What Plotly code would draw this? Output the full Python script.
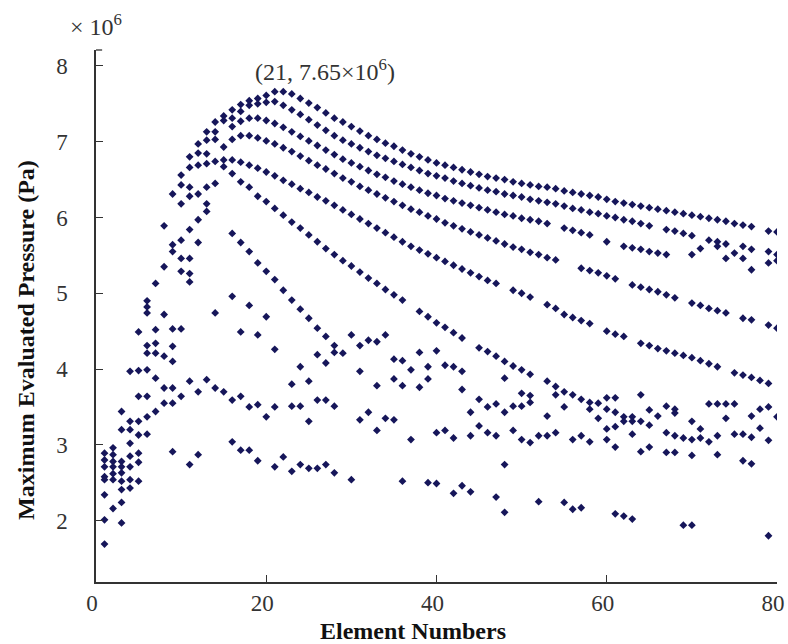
import plotly.graph_objects as go

# ---- data (pressure in units of 10^6 Pa) ----
curve_a_x = [8, 9, 10, 11, 12, 13, 14, 15, 16, 17, 18, 19, 20, 21, 22, 23, 24, 25, 26, 27, 28, 29, 30,
             31, 32, 33, 34, 35, 36, 37, 38, 39, 40, 41, 42, 43, 44, 45, 46, 47, 48, 49, 50, 51, 52, 53,
             54, 55, 56, 57, 58, 59, 60, 61, 62, 63, 64, 65, 66, 67, 68, 69, 70, 71, 72, 73, 74, 75, 76,
             77, 79, 80]
curve_a_y = [5.89, 6.31, 6.56, 6.80, 6.97, 7.13, 7.26, 7.34, 7.42, 7.49, 7.54, 7.57, 7.61, 7.66, 7.66,
             7.63, 7.57, 7.51, 7.45, 7.38, 7.31, 7.26, 7.20, 7.14, 7.08, 7.03, 6.98, 6.94, 6.89, 6.84,
             6.80, 6.76, 6.72, 6.69, 6.66, 6.63, 6.60, 6.57, 6.54, 6.52, 6.50, 6.47, 6.45, 6.43, 6.41,
             6.40, 6.38, 6.35, 6.33, 6.31, 6.29, 6.27, 6.24, 6.21, 6.19, 6.17, 6.15, 6.13, 6.11, 6.09,
             6.07, 6.05, 6.03, 6.01, 5.99, 5.97, 5.95, 5.92, 5.90, 5.88, 5.82, 5.81]

curve_b_x = [10, 11, 12, 13, 14, 15, 16, 17, 18, 19, 20, 21, 22, 23, 24, 25, 26, 27, 28, 29, 30, 31,
             32, 33, 34, 35, 36, 37, 38, 39, 40, 41, 42, 43, 44, 45, 46, 47, 48, 49, 50, 51, 52, 53,
             54, 55, 56, 57, 58, 59, 60, 61, 62, 63, 64, 65, 67, 68, 69, 70, 72, 73, 74, 76, 77, 79, 80]
curve_b_y = [6.43, 6.66, 6.85, 7.02, 7.13, 7.28, 7.31, 7.40, 7.48, 7.50, 7.52, 7.53, 7.48, 7.42, 7.36,
             7.29, 7.22, 7.15, 7.08, 7.02, 6.97, 6.92, 6.87, 6.82, 6.78, 6.74, 6.70, 6.66, 6.62, 6.58,
             6.55, 6.52, 6.48, 6.45, 6.42, 6.39, 6.36, 6.34, 6.31, 6.29, 6.27, 6.24, 6.22, 6.20, 6.18,
             6.15, 6.12, 6.10, 6.07, 6.05, 6.02, 6.00, 5.97, 5.95, 5.92, 5.89, 5.84, 5.82, 5.79, 5.76,
             5.70, 5.68, 5.65, 5.62, 5.58, 5.55, 5.51]

curve_c_x = [16, 17, 18, 19, 20, 21, 22, 23, 24, 25, 26, 27, 28, 29, 30, 31, 32, 33, 34, 35, 36, 37,
             38, 39, 40, 41, 42, 43, 44, 45, 46, 47, 48, 49, 50, 51, 52, 53, 55, 56, 57, 58, 60, 62,
             63, 64, 65, 66, 67, 70, 71, 73, 74, 75, 76, 77, 79, 80]
curve_c_y = [7.20, 7.27, 7.31, 7.31, 7.28, 7.24, 7.19, 7.13, 7.07, 7.01, 6.95, 6.89, 6.83, 6.77, 6.72,
             6.67, 6.62, 6.57, 6.53, 6.48, 6.44, 6.40, 6.36, 6.32, 6.29, 6.25, 6.22, 6.19, 6.16, 6.13,
             6.10, 6.07, 6.04, 6.02, 5.99, 5.97, 5.95, 5.92, 5.86, 5.83, 5.80, 5.77, 5.68, 5.62, 5.60,
             5.58, 5.55, 5.53, 5.51, 5.51, 5.59, 5.62, 5.46, 5.53, 5.46, 5.31, 5.40, 5.43]

curve_d_x = [15, 16, 17, 18, 19, 20, 21, 22, 23, 24, 25, 26, 27, 28, 29, 30, 31, 32, 33, 34, 35, 36,
             37, 38, 39, 40, 41, 42, 43, 44, 45, 46, 47, 48, 49, 50, 51, 52, 53, 54, 57, 58, 59, 60,
             61, 63, 64, 65, 66, 67, 68, 70, 71, 72, 73, 74, 76, 77, 79, 80]
curve_d_y = [6.93, 7.03, 7.08, 7.08, 7.05, 7.01, 6.97, 6.92, 6.87, 6.81, 6.75, 6.69, 6.64, 6.58, 6.52,
             6.47, 6.41, 6.36, 6.31, 6.26, 6.21, 6.16, 6.11, 6.07, 6.02, 5.98, 5.93, 5.89, 5.85, 5.81,
             5.77, 5.73, 5.69, 5.65, 5.61, 5.58, 5.54, 5.51, 5.47, 5.44, 5.33, 5.30, 5.27, 5.23, 5.19,
             5.11, 5.08, 5.05, 5.02, 4.98, 4.94, 4.87, 4.84, 4.80, 4.77, 4.74, 4.67, 4.65, 4.58, 4.54]

curve_e_x = [14, 15, 16, 17, 18, 19, 20, 21, 22, 23, 24, 25, 26, 27, 28, 29, 30, 31, 32, 33, 34, 35,
             36, 37, 38, 39, 40, 41, 42, 43, 44, 45, 46, 47, 49, 50, 51, 53, 54, 55, 56, 57, 58, 60,
             61, 62, 64, 65, 66, 67, 68, 69, 70, 71, 72, 73, 75, 76, 77, 78, 79]
curve_e_y = [6.74, 6.76, 6.76, 6.73, 6.69, 6.65, 6.60, 6.55, 6.49, 6.44, 6.38, 6.33, 6.27, 6.22, 6.16,
             6.10, 6.04, 5.98, 5.92, 5.86, 5.80, 5.74, 5.68, 5.62, 5.57, 5.52, 5.47, 5.42, 5.37, 5.32,
             5.27, 5.22, 5.17, 5.13, 5.04, 5.00, 4.95, 4.85, 4.80, 4.72, 4.68, 4.64, 4.60, 4.50, 4.46,
             4.43, 4.34, 4.31, 4.27, 4.24, 4.21, 4.18, 4.15, 4.11, 4.07, 4.03, 3.95, 3.92, 3.89, 3.85,
             3.81]

curve_f_x = [15, 16, 17, 18, 19, 20, 21, 22, 23, 24, 25, 26, 27, 28, 29, 30, 31, 32, 33, 34, 35, 36,
             38, 39, 40, 41, 42, 43, 45, 46, 47, 48, 49, 50, 51, 53, 54, 55, 56, 57, 58, 59]
curve_f_y = [6.67, 6.58, 6.47, 6.40, 6.28, 6.21, 6.12, 6.03, 5.94, 5.86, 5.77, 5.68, 5.59, 5.51, 5.43,
             5.36, 5.28, 5.20, 5.13, 5.05, 4.98, 4.91, 4.76, 4.69, 4.61, 4.55, 4.48, 4.41, 4.28, 4.23,
             4.17, 4.10, 4.04, 3.99, 3.93, 3.84, 3.77, 3.70, 3.66, 3.60, 3.56, 3.55]

curve_g_x = [16, 17, 18, 19, 20, 21, 22, 23, 24, 25, 26, 27, 28, 29]
curve_g_y = [5.79, 5.67, 5.55, 5.40, 5.29, 5.18, 5.04, 4.91, 4.79, 4.67, 4.54, 4.43, 4.31, 4.21]

rise_x = [6, 6, 6, 7, 8, 9, 9, 10, 10, 10, 10, 11, 11, 11, 11, 11, 11, 12, 12, 12, 12, 13, 13, 13,
          13, 13, 14, 14, 14, 16, 18]
rise_y = [4.90, 4.82, 4.74, 5.13, 5.35, 5.64, 5.55, 6.18, 5.70, 5.46, 5.29, 6.40, 6.28, 5.84, 5.46,
          5.26, 5.15, 6.69, 6.31, 5.97, 5.67, 6.84, 6.71, 6.40, 6.18, 6.08, 7.03, 6.45, 4.74, 4.96, 4.84]

left_x = [1, 1, 1, 1, 1, 1, 1, 1, 2, 2, 2, 2, 2, 2, 2, 3, 3, 3, 3, 3, 3, 3, 3, 3, 4, 4, 4, 4, 4, 4,
          4, 4, 5, 5, 5, 5, 5, 5, 5, 5, 6, 6, 6, 6, 6, 6, 7, 7, 7, 7, 7, 8, 8, 8, 8, 9, 9, 9, 9, 9, 9,
          10, 10, 11, 11, 12, 12]
left_y = [2.89, 2.80, 2.71, 2.58, 2.54, 2.34, 2.01, 1.69, 2.96, 2.87, 2.78, 2.71, 2.62, 2.54, 2.16,
          2.78, 2.71, 2.63, 2.52, 2.41, 2.24, 1.97, 3.20, 3.44, 3.97, 3.31, 3.20, 3.02, 2.85, 2.71,
          2.54, 2.43, 4.49, 3.98, 3.64, 3.31, 3.13, 2.89, 2.77, 2.52, 4.31, 4.21, 3.99, 3.64, 3.37,
          3.14, 4.52, 4.34, 4.21, 3.88, 3.44, 4.72, 4.17, 3.75, 3.55, 4.53, 4.30, 4.10, 3.75, 3.55,
          2.91, 4.53, 3.64, 3.84, 2.74, 3.70, 2.87]

mid_x = [13, 14, 15, 16, 17, 18, 19, 20, 21, 23, 24, 23, 25, 26, 27, 25, 24, 26, 27, 17, 19, 20, 21,
         16, 17, 18, 19, 21, 22, 23, 24, 25, 26, 27]
mid_y = [3.86, 3.75, 3.70, 3.59, 3.64, 3.50, 3.53, 3.37, 3.50, 3.51, 3.51, 3.80, 3.84, 3.59, 3.59,
         3.31, 4.03, 4.19, 4.08, 4.49, 4.45, 4.69, 4.26, 3.04, 2.93, 2.93, 2.79, 2.71, 2.84, 2.65,
         2.74, 2.69, 2.69, 2.74]

center_x = [28, 30, 31, 31, 32, 33, 34, 33, 35, 36, 37, 35, 36, 38, 38, 39, 39, 40, 41, 42, 43, 43,
            48, 45, 46, 47, 48, 49, 50, 50, 51, 51, 53, 54, 44, 45, 46, 47, 49, 50, 51, 52, 53, 54,
            40, 41, 42, 44, 37, 28, 31, 32, 33, 34, 35, 28, 30, 36, 39, 40, 42, 43, 44, 47, 48, 48,
            52]
center_y = [4.22, 4.45, 4.31, 3.97, 4.38, 4.36, 4.45, 3.78, 4.13, 4.11, 3.99, 3.87, 3.78, 4.22, 3.76,
            4.03, 3.87, 4.24, 4.05, 4.03, 3.97, 3.73, 3.88, 3.60, 3.50, 3.54, 3.43, 3.51, 3.51, 3.68,
            3.65, 3.56, 3.38, 3.66, 3.43, 3.25, 3.16, 3.12, 3.19, 3.07, 3.03, 3.12, 3.12, 3.16, 3.16,
            3.19, 3.09, 3.12, 3.07, 3.51, 3.33, 3.43, 3.19, 3.35, 3.33, 2.63, 2.54, 2.52, 2.50, 2.49,
            2.36, 2.46, 2.38, 2.31, 2.74, 2.11, 2.25]

right_x = [55, 58, 59, 60, 61, 60, 61, 62, 63, 62, 63, 64, 64, 65, 65, 66, 67, 68, 68, 70, 71, 72,
           73, 74, 75, 74, 77, 78, 79, 80, 78, 56, 57, 58, 60, 61, 60, 61, 63, 64, 65, 67, 68, 69,
           70, 71, 72, 67, 68, 70, 73, 73, 75, 76, 77, 79, 76, 77, 55, 56, 57, 61, 62, 63, 69, 70,
           79]
right_y = [3.50, 3.47, 3.35, 3.62, 3.62, 3.47, 3.43, 3.37, 3.37, 3.31, 3.31, 3.66, 3.31, 3.46, 3.26,
           3.38, 3.51, 3.47, 3.42, 3.31, 3.21, 3.54, 3.54, 3.54, 3.54, 3.35, 3.38, 3.47, 3.50, 3.37,
           3.22, 3.07, 3.12, 3.04, 3.21, 3.24, 3.07, 2.97, 3.14, 2.91, 2.97, 3.16, 3.12, 3.09, 3.07,
           3.09, 3.04, 2.90, 2.90, 2.86, 3.12, 2.87, 3.14, 3.14, 3.10, 3.06, 2.79, 2.75, 2.24, 2.15,
           2.17, 2.09, 2.06, 2.02, 1.94, 1.94, 1.80]

x_ticks = [0, 20, 40, 60, 80]
y_ticks = [2, 3, 4, 5, 6, 7, 8]

groups = [
    (curve_a_x, curve_a_y), (curve_b_x, curve_b_y), (curve_c_x, curve_c_y),
    (curve_d_x, curve_d_y), (curve_e_x, curve_e_y), (curve_f_x, curve_f_y),
    (curve_g_x, curve_g_y), (rise_x, rise_y), (left_x, left_y), (mid_x, mid_y),
    (center_x, center_y), (right_x, right_y),
]

MARK = "#16165a"
FONT = "Liberation Serif"

fig = go.Figure()
for gx, gy in groups:
    fig.add_trace(go.Scatter(
        x=gx, y=gy, mode="markers", showlegend=False, hoverinfo="x+y",
        marker=dict(symbol="diamond", size=6.0, color=MARK, line=dict(width=0)),
    ))

axis_common = dict(
    showgrid=False, zeroline=False, showline=True, linecolor="#333333", linewidth=1.5,
    ticks="inside", ticklen=7, tickwidth=1.3, tickcolor="#333333",
    tickfont=dict(family=FONT, size=23, color="#333333"), mirror=False,
    automargin=False,
)

fig.update_layout(
    width=788, height=644,
    margin=dict(l=96, r=11, t=50, b=62, autoexpand=False),
    paper_bgcolor="white", plot_bgcolor="white",
    font=dict(family=FONT, color="#222222"),
    xaxis=dict(range=[0, 80], tickvals=x_ticks, ticklabelstandoff=0, ticklabelshift=-4,
               ticklabeloverflow="allow", **axis_common),
    yaxis=dict(range=[1.19, 8.21], tickvals=y_ticks, ticklabelstandoff=22, ticklabelshift=0,
               ticklabeloverflow="allow", **axis_common),
    annotations=[
        dict(text="<b>Element Numbers</b>", xref="paper", yref="paper", x=0.4655, y=-0.092,
             xanchor="center", yanchor="middle", showarrow=False,
             font=dict(family=FONT, size=24, color="#111111")),
        dict(text="<b>Maximum Evaluated Pressure (Pa)</b>", xref="paper", yref="paper",
             x=-0.1028, y=0.455, textangle=-90, xanchor="center", yanchor="middle",
             showarrow=False, font=dict(family=FONT, size=24, color="#111111")),
        dict(text="× 10<sup>6</sup>", xref="paper", yref="paper", x=0.0, y=1.047,
             xanchor="center", yanchor="middle", showarrow=False,
             font=dict(family=FONT, size=24, color="#333333")),
        dict(text="(21, 7.65×10<sup>6</sup>)", xref="paper", yref="paper", x=0.336, y=0.962,
             xanchor="center", yanchor="middle", showarrow=False,
             font=dict(family=FONT, size=24, color="#333333")),
    ],
    shapes=[dict(type="line", xref="paper", yref="paper", x0=0, x1=0.009, y0=1, y1=1,
                 line=dict(color="#333333", width=1.3))],
)

fig.write_html("out.html")
